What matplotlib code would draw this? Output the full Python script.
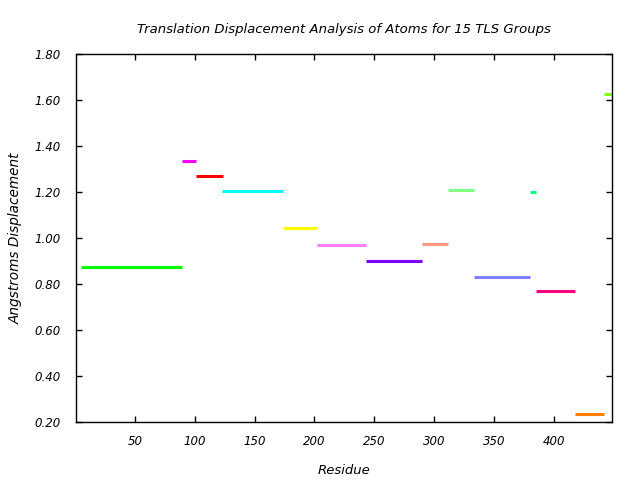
import matplotlib
matplotlib.use("Agg")
import matplotlib.pyplot as plt

# TLS group segments: first residue, last residue, displacement
res_start = [5, 89, 101, 123, 174, 202, 243, 290, 312, 333, 380, 385, 418, 442]
res_end = [89, 101, 124, 174, 202, 243, 290, 312, 333, 380, 385, 418, 442, 449]
displacement = [0.873, 1.333, 1.268, 1.203, 1.042, 0.968, 0.899, 0.973,
                1.207, 0.829, 1.199, 0.770, 0.235, 1.625]
colors = ["#00ff00", "#ff00ff", "#ff0000", "#00ffff", "#ffff00", "#ff80ff",
          "#8000ff", "#ff9980", "#80ff80", "#8080ff", "#00ff80", "#ff0080",
          "#ff8000", "#80ff00"]

x_ticks = [50, 100, 150, 200, 250, 300, 350, 400]
y_ticks = [0.2, 0.4, 0.6, 0.8, 1.0, 1.2, 1.4, 1.6, 1.8]

fig = plt.figure(figsize=(6.4, 4.8), dpi=100)
ax = fig.add_axes([0.1192, 0.1208, 0.8375, 0.7667])

for s, e, d, c in zip(res_start, res_end, displacement, colors):
    ax.plot([s, e], [d, d], color=c, linewidth=2.2, solid_capstyle="butt")

ax.set_xlim(1, 449)
ax.set_ylim(0.2, 1.8)
ax.set_xticks(x_ticks)
ax.set_yticks(y_ticks)
ax.set_yticklabels(["%.2f" % v for v in y_ticks])
ax.tick_params(direction="in", length=4, width=1, top=True, right=True,
               labelsize=8.5)
ax.tick_params(axis="x", pad=9)
ax.tick_params(axis="y", pad=11)
for lab in ax.get_xticklabels() + ax.get_yticklabels():
    lab.set_fontstyle("italic")
for sp in ax.spines.values():
    sp.set_linewidth(1)

ax.set_title("Translation Displacement Analysis of Atoms for 15 TLS Groups",
             fontsize=9.5, style="italic", pad=15)
ax.set_xlabel("Residue", fontsize=9.5, style="italic", labelpad=12)
ax.set_ylabel("Angstroms Displacement", fontsize=9.8, style="italic", labelpad=9)

fig.savefig("out.png", dpi=100)
